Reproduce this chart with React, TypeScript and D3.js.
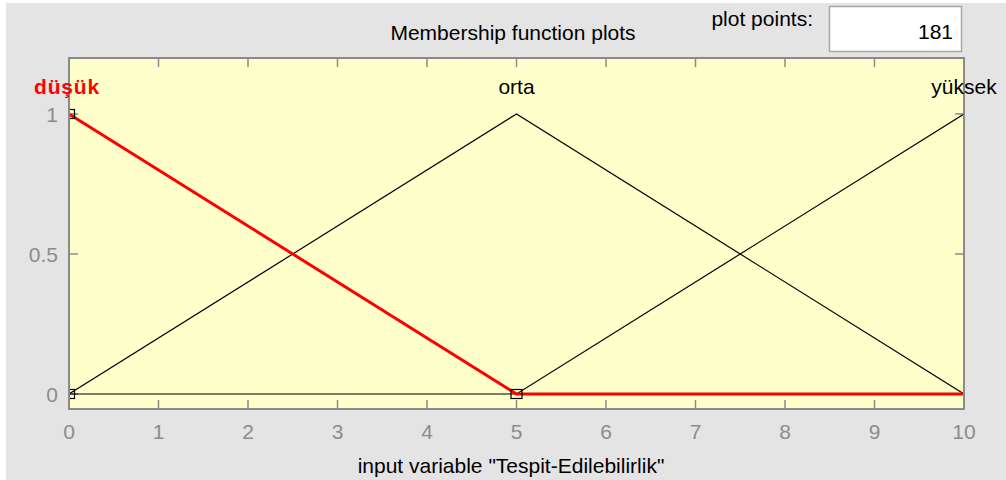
import React from "react";
import * as d3 from "d3";

const W = 1006;
const H = 480;

const xTicks = [0, 1, 2, 3, 4, 5, 6, 7, 8, 9, 10];
const yTicks = [0, 0.5, 1];
const yTickLabels = ["0", "0.5", "1"];

const mfNames = ["düşük", "orta", "yüksek"];
const mfPeaks = [0, 5, 10];
const mfX = [0, 5, 10];
const dusukY = [1, 0, 0];
const ortaY = [0, 1, 0];
const yuksekY = [0, 0, 1];
// vertices of the selected function (markers)
const markerX = [0, 0, 5];
const markerY = [1, 0, 0];

const title = "Membership function plots";
const xLabel = 'input variable "Tespit-Edilebilirlik"';
const plotPointsLabel = "plot points:";
const plotPointsValue = "181";

const FONT = "'Liberation Sans', Arial, sans-serif";
const FS = 21;

export default function App() {
  const left = 69, right = 964, top = 58, bottom = 409;
  const x = d3.scaleLinear().domain([0, 10]).range([left, right]);
  const y = d3.scaleLinear().domain([-0.05, 1.2]).range([bottom - 1, top]);
  const line = d3
    .line<[number, number]>()
    .x((d) => x(d[0]))
    .y((d) => y(d[1]));
  const pts = (ys: number[]) => mfX.map((v, i) => [v, ys[i]] as [number, number]);
  const tickLen = 9;
  const gray = "#8a8a8a";
  const labelGray = "#8c8c8c";

  return (
    <svg
      width={W}
      height={H}
      style={{ position: "absolute", left: 0, top: 0, display: "block" }}
      fontFamily={FONT}
    >
      <rect x={0} y={0} width={W} height={H} fill="#ffffff" />
      <rect x={6} y={3} width={W - 6} height={H - 3} fill="#e4e4e4" />
      <defs>
        <clipPath id="plotclip">
          <rect x={left} y={top} width={right - left} height={bottom - top} />
        </clipPath>
      </defs>

      {/* title */}
      <text x={513} y={32} fontSize={FS} textAnchor="middle" dominantBaseline="central" fill="#000">
        {title}
      </text>
      <text x={813} y={18} fontSize={FS} textAnchor="end" dominantBaseline="central" fill="#000">
        {plotPointsLabel}
      </text>
      <rect x={829.5} y={6.5} width={132} height={45} fill="#ffffff" stroke="#a8a8a8" strokeWidth={1.5} />
      <text x={953} y={31} fontSize={FS} textAnchor="end" dominantBaseline="central" fill="#000">
        {plotPointsValue}
      </text>

      {/* plot area */}
      <rect x={left} y={top} width={right - left} height={bottom - top} fill="#ffffcc" />

      {/* ticks */}
      {xTicks.map((t) => (
        <g key={"xt" + t}>
          <line x1={x(t)} x2={x(t)} y1={bottom} y2={bottom - tickLen} stroke={gray} strokeWidth={1.5} />
          <line x1={x(t)} x2={x(t)} y1={top} y2={top + tickLen} stroke={gray} strokeWidth={1.5} />
          <text x={x(t)} y={431} fontSize={FS} textAnchor="middle" dominantBaseline="central" fill={labelGray}>
            {t}
          </text>
        </g>
      ))}
      {yTicks.map((t, i) => (
        <g key={"yt" + t}>
          <line x1={left} x2={left + tickLen} y1={y(t)} y2={y(t)} stroke={gray} strokeWidth={1.5} />
          <line x1={right} x2={right - tickLen} y1={y(t)} y2={y(t)} stroke={gray} strokeWidth={1.5} />
          <text x={58} y={y(t)} fontSize={FS} textAnchor="end" dominantBaseline="central" fill={labelGray}>
            {yTickLabels[i]}
          </text>
        </g>
      ))}

      {/* membership functions */}
      <g clipPath="url(#plotclip)">
        <path d={line(pts(yuksekY)) || ""} fill="none" stroke="#000" strokeWidth={1.2} />
        <path d={line(pts(ortaY)) || ""} fill="none" stroke="#000" strokeWidth={1.2} />
        <path d={line(pts(dusukY)) || ""} fill="none" stroke="#ff0000" strokeWidth={3} />
        {markerX.map((mx, i) => (
          <rect
            key={"m" + i}
            x={x(mx) - 5.5}
            y={y(markerY[i]) - 4.5}
            width={11}
            height={9}
            fill="none"
            stroke="#000"
            strokeWidth={1.2}
          />
        ))}
      </g>

      {/* axes box */}
      <rect x={left} y={top} width={right - left} height={bottom - top} fill="none" stroke={gray} strokeWidth={2} />

      {/* MF labels */}
      {mfNames.map((n, i) => (
        <text
          key={n}
          x={x(mfPeaks[i]) + (i === 0 ? -2 : 0)}
          y={86}
          fontSize={FS}
          textAnchor="middle"
          dominantBaseline="central"
          fill={i === 0 ? "#ff0000" : "#000"}
          fontWeight={i === 0 ? "bold" : "normal"}
          letterSpacing={i === 0 ? 0.8 : 0}
        >
          {n}
        </text>
      ))}

      <text x={511} y={465} fontSize={FS} textAnchor="middle" dominantBaseline="central" fill="#000">
        {xLabel}
      </text>
    </svg>
  );
}
